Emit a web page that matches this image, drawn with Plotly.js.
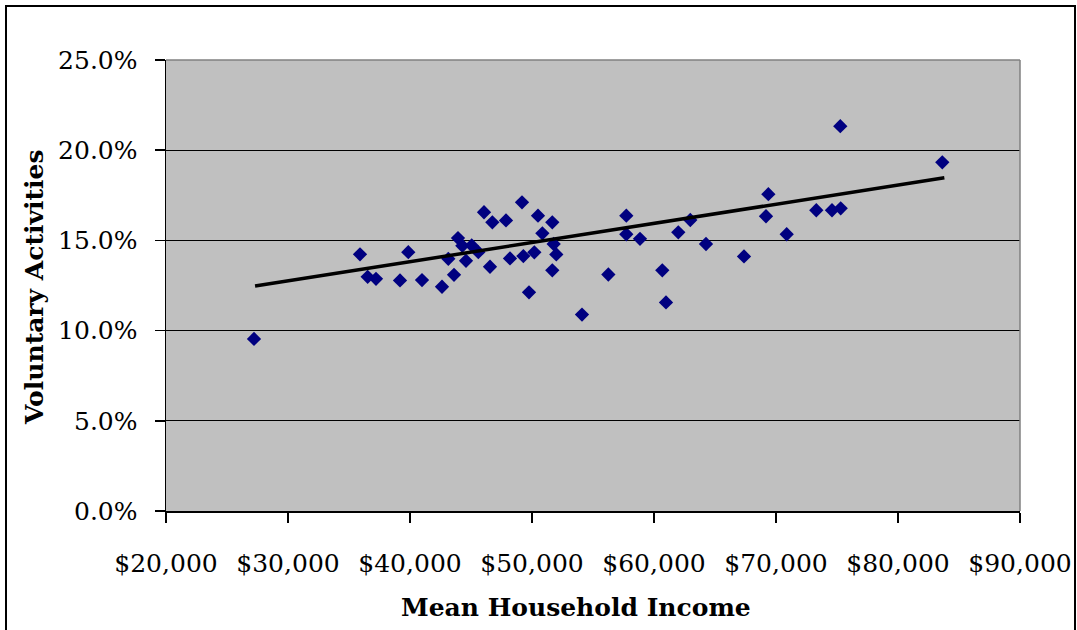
<!DOCTYPE html>
<html>
<head>
<meta charset="utf-8">
<script src="https://cdn.plot.ly/plotly-3.0.1.min.js"></script>
<style>
  html, body { margin: 0; padding: 0; background: #fff; }
  #chart { width: 1077px; height: 630px; }
  #frame { position: absolute; left: 5px; top: 5px; width: 1067px; height: 700px;
           border: 2px solid #000; pointer-events: none; }
</style>
</head>
<body>
<div id="chart"></div>
<div id="frame"></div>
<script>
// Mean household income (US$)
const income = [27213, 35902, 36530, 37213, 39180, 39860, 40984, 42623, 43607, 43140,
  43934, 44290, 45057, 45600, 44590, 46066, 46750, 47869, 46557, 48197,
  49180, 49290, 49754, 50190, 50492, 50850, 51664, 51775, 51993, 51664,
  54098, 56257, 57730, 57730, 58852, 60680, 60984, 61992, 62975, 64262,
  67377, 69372, 69180, 70877, 73303, 74590, 75303, 75270, 83631];
// Share taking part in voluntary activities (%)
const voluntary = [9.54, 14.23, 12.98, 12.87, 12.78, 14.35, 12.80, 12.43, 13.09, 13.98,
  15.13, 14.70, 14.72, 14.35, 13.87, 16.56, 16.00, 16.11, 13.54, 14.00,
  17.11, 14.13, 12.12, 14.34, 16.37, 15.39, 16.00, 14.80, 14.22, 13.34,
  10.89, 13.11, 16.37, 15.34, 15.09, 13.34, 11.56, 15.45, 16.13, 14.80,
  14.11, 17.56, 16.34, 15.34, 16.67, 16.67, 16.78, 21.33, 19.33];
// Linear trendline endpoints as drawn in the reference
const trendIncome = [27300, 83800];
const trendVoluntary = [12.47, 18.47];

const xTitle = 'Mean Household Income';
const yTitle = 'Voluntary Activities';

const font = 'DejaVu Serif, Liberation Serif, serif';

const data = [
  { x: income, y: voluntary.map(v => v / 100), type: 'scatter', mode: 'markers',
    marker: { symbol: 'diamond', size: 11, color: '#000080', line: { width: 0 } },
    hoverinfo: 'x+y', showlegend: false },
  { x: trendIncome, y: trendVoluntary.map(v => v / 100), type: 'scatter', mode: 'lines',
    line: { color: '#000000', width: 3.5 }, showlegend: false, hoverinfo: 'skip' }
];

const layout = {
  width: 1077, height: 630,
  margin: { l: 166, r: 57, t: 60, b: 119 },
  paper_bgcolor: '#ffffff', plot_bgcolor: '#c0c0c0',
  font: { family: font, size: 25, color: '#000' },
  showlegend: false,
  xaxis: {
    range: [20000, 90000], dtick: 10000, tick0: 20000,
    tickformat: '$,', showgrid: false, zeroline: false,
    showline: true, linecolor: '#000', linewidth: 1.5,
    ticks: 'outside', ticklen: 10, tickwidth: 1.5, tickcolor: '#000',
    ticklabelstandoff: 19,
    tickfont: { family: font, size: 25, color: '#000' }
  },
  yaxis: {
    range: [0, 0.25], dtick: 0.05, tick0: 0,
    tickformat: '.1%', showgrid: true, gridcolor: '#000', gridwidth: 1,
    zeroline: false, showline: true, linecolor: '#000', linewidth: 1.5,
    ticks: 'outside', ticklen: 10, tickwidth: 1.5, tickcolor: '#000',
    ticklabelstandoff: 12,
    tickfont: { family: font, size: 25, color: '#000' }
  },
  shapes: [
    { type: 'line', xref: 'paper', yref: 'paper', x0: 0, x1: 1, y0: 1, y1: 1,
      line: { color: '#808080', width: 1.5 }, layer: 'above' },
    { type: 'line', xref: 'paper', yref: 'paper', x0: 1, x1: 1, y0: 0, y1: 1,
      line: { color: '#808080', width: 1.5 }, layer: 'above' }
  ],
  annotations: [
    { text: '<b>' + xTitle + '</b>', xref: 'paper', yref: 'paper',
      x: (576 - 166) / 854, y: -(607 - 511) / 451, xanchor: 'center', yanchor: 'middle',
      showarrow: false, font: { family: font, size: 25, color: '#000' } },
    { text: '<b>' + yTitle + '</b>', xref: 'paper', yref: 'paper',
      x: -(166 - 34) / 854, y: (511 - 287) / 451, xanchor: 'center', yanchor: 'middle',
      textangle: -90, showarrow: false, font: { family: font, size: 25, color: '#000' } }
  ]
};

Plotly.newPlot('chart', data, layout, { displayModeBar: false, staticPlot: true });
</script>
</body>
</html>
